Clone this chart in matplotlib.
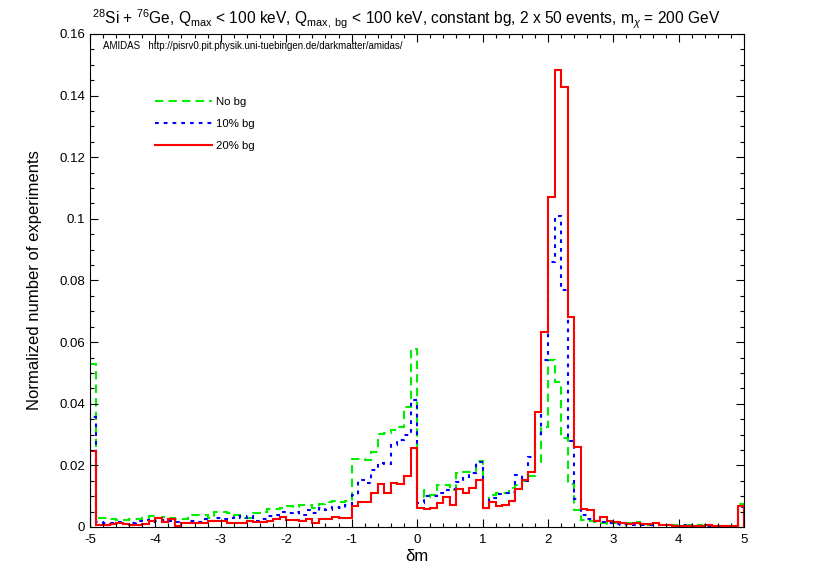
import numpy as np
import matplotlib
matplotlib.use("Agg")
import matplotlib.pyplot as plt
from matplotlib.ticker import MultipleLocator, FuncFormatter

plt.rcParams['font.family'] = ['Liberation Sans', 'DejaVu Sans']
plt.rcParams['mathtext.fontset'] = 'custom'
plt.rcParams['mathtext.rm'] = 'Liberation Sans'
plt.rcParams['mathtext.it'] = 'Liberation Sans:italic'

# bin edges: -5 .. 5 in steps of 0.1
edges = np.round(np.arange(-5.0, 5.0001, 0.1), 2)

# normalized histograms, one row per unit of delta m (left edge -5.0 .. 4.9)
no_bg = [
    0.0530, 0.0030, 0.0030, 0.0025, 0.0023, 0.0023, 0.0025, 0.0025, 0.0030, 0.0035,
    0.0030, 0.0033, 0.0028, 0.0025, 0.0025, 0.0040, 0.0040, 0.0038, 0.0028, 0.0048,
    0.0050, 0.0045, 0.0038, 0.0030, 0.0030, 0.0045, 0.0048, 0.0058, 0.0058, 0.0060,
    0.0068, 0.0065, 0.0072, 0.0070, 0.0060, 0.0075, 0.0080, 0.0085, 0.0082, 0.0085,
    0.0222, 0.0220, 0.0217, 0.0244, 0.0301, 0.0304, 0.0315, 0.0323, 0.0390, 0.0578,
    0.0120, 0.0098, 0.0103, 0.0136, 0.0136, 0.0120, 0.0175, 0.0180, 0.0180, 0.0213,
    0.0072, 0.0103, 0.0109, 0.0109, 0.0125, 0.0136, 0.0150, 0.0166, 0.0212, 0.0326,
    0.0542, 0.0472, 0.0290, 0.0140, 0.0055, 0.0023, 0.0018, 0.0015, 0.0012, 0.0010,
    0.0012, 0.0010, 0.0012, 0.0015, 0.0010, 0.0008, 0.0012, 0.0008, 0.0006, 0.0005,
    0.0006, 0.0005, 0.0004, 0.0005, 0.0004, 0.0004, 0.0003, 0.0004, 0.0003, 0.0075,
]
bg_10 = [
    0.0356, 0.0015, 0.0012, 0.0012, 0.0015, 0.0010, 0.0012, 0.0020, 0.0022, 0.0015,
    0.0020, 0.0022, 0.0018, 0.0015, 0.0012, 0.0020, 0.0015, 0.0025, 0.0020, 0.0030,
    0.0025, 0.0030, 0.0035, 0.0030, 0.0035, 0.0020, 0.0025, 0.0035, 0.0040, 0.0050,
    0.0045, 0.0050, 0.0040, 0.0055, 0.0045, 0.0060, 0.0055, 0.0065, 0.0062, 0.0072,
    0.0104, 0.0153, 0.0142, 0.0185, 0.0207, 0.0205, 0.0267, 0.0283, 0.0299, 0.0412,
    0.0077, 0.0102, 0.0102, 0.0109, 0.0120, 0.0122, 0.0147, 0.0163, 0.0174, 0.0212,
    0.0061, 0.0093, 0.0107, 0.0109, 0.0115, 0.0169, 0.0150, 0.0228, 0.0302, 0.0542,
    0.0860, 0.1010, 0.0770, 0.0280, 0.0090, 0.0040, 0.0025, 0.0020, 0.0015, 0.0012,
    0.0010, 0.0008, 0.0010, 0.0008, 0.0006, 0.0008, 0.0005, 0.0006, 0.0005, 0.0004,
    0.0004, 0.0005, 0.0003, 0.0004, 0.0004, 0.0003, 0.0004, 0.0003, 0.0003, 0.0065,
]
bg_20 = [
    0.0248, 0.0008, 0.0008, 0.0010, 0.0013, 0.0010, 0.0006, 0.0006, 0.0010, 0.0018,
    0.0028, 0.0015, 0.0025, 0.0004, 0.0014, 0.0014, 0.0014, 0.0014, 0.0018, 0.0020,
    0.0018, 0.0014, 0.0014, 0.0012, 0.0020, 0.0016, 0.0016, 0.0020, 0.0025, 0.0034,
    0.0022, 0.0022, 0.0018, 0.0025, 0.0012, 0.0027, 0.0025, 0.0034, 0.0030, 0.0028,
    0.0069, 0.0080, 0.0080, 0.0109, 0.0138, 0.0109, 0.0142, 0.0138, 0.0166, 0.0255,
    0.0061, 0.0059, 0.0061, 0.0077, 0.0098, 0.0071, 0.0122, 0.0109, 0.0125, 0.0154,
    0.0061, 0.0082, 0.0069, 0.0071, 0.0085, 0.0122, 0.0153, 0.0180, 0.0374, 0.0634,
    0.1072, 0.1483, 0.1427, 0.0680, 0.0260, 0.0058, 0.0055, 0.0021, 0.0034, 0.0021,
    0.0015, 0.0012, 0.0010, 0.0012, 0.0009, 0.0010, 0.0012, 0.0007, 0.0005, 0.0004,
    0.0004, 0.0004, 0.0004, 0.0004, 0.0005, 0.0004, 0.0004, 0.0004, 0.0004, 0.0068,
]

fig = plt.figure(figsize=(8.17, 5.72), dpi=100)
ax = fig.add_axes([0.1100, 0.0787, 0.8010, 0.8619])

ax.stairs(no_bg, edges, color='#00ee00', lw=1.5, linestyle=(0, (4, 2.5)), label='No bg')
ax.stairs(bg_10, edges, color='#0000ff', lw=1.5, linestyle=(0, (1.8, 2.4)), label='10% bg')
ax.stairs(bg_20, edges, color='#ff0000', lw=1.5, label='20% bg')

ax.set_xlim(-5, 5)
ax.set_ylim(0, 0.16)
ax.xaxis.set_major_locator(MultipleLocator(1))
ax.xaxis.set_minor_locator(MultipleLocator(0.2))
ax.yaxis.set_major_locator(MultipleLocator(0.02))
ax.yaxis.set_minor_locator(MultipleLocator(0.005))
ax.xaxis.set_major_formatter(FuncFormatter(lambda v, p: '%g' % round(v, 3)))
ax.yaxis.set_major_formatter(FuncFormatter(lambda v, p: '%g' % round(v, 3)))
ax.tick_params(which='both', direction='in', top=True, right=True, labelsize=9.5)
ax.tick_params(which='major', length=6, width=0.8)
ax.tick_params(which='minor', length=3, width=0.8)
ax.tick_params(axis='x', pad=5)

ax.set_xlabel('δm', fontsize=12, labelpad=2)
ax.set_ylabel('Normalized number of experiments', fontsize=12, labelpad=12)
ax.set_title(r'$^{28}$Si + $^{76}$Ge, Q$_{\mathrm{max}}$ < 100 keV, Q$_{\mathrm{max,\ bg}}$ < 100 keV, '
             r'constant bg, 2 x 50 events, m$_{\chi}$ = 200 GeV', fontsize=11.2, pad=7, x=0.483)

ax.text(0.02, 0.985, 'AMIDAS   http://pisrv0.pit.physik.uni-tuebingen.de/darkmatter/amidas/',
        transform=ax.transAxes, fontsize=7, va='top', ha='left')

ax.legend(loc='upper left', bbox_to_anchor=(0.1, 0.873), frameon=False, fontsize=8.2,
          handlelength=5.0, handletextpad=0.3, labelspacing=1.05, borderpad=0, borderaxespad=0)

fig.savefig('out.png', dpi=100)
